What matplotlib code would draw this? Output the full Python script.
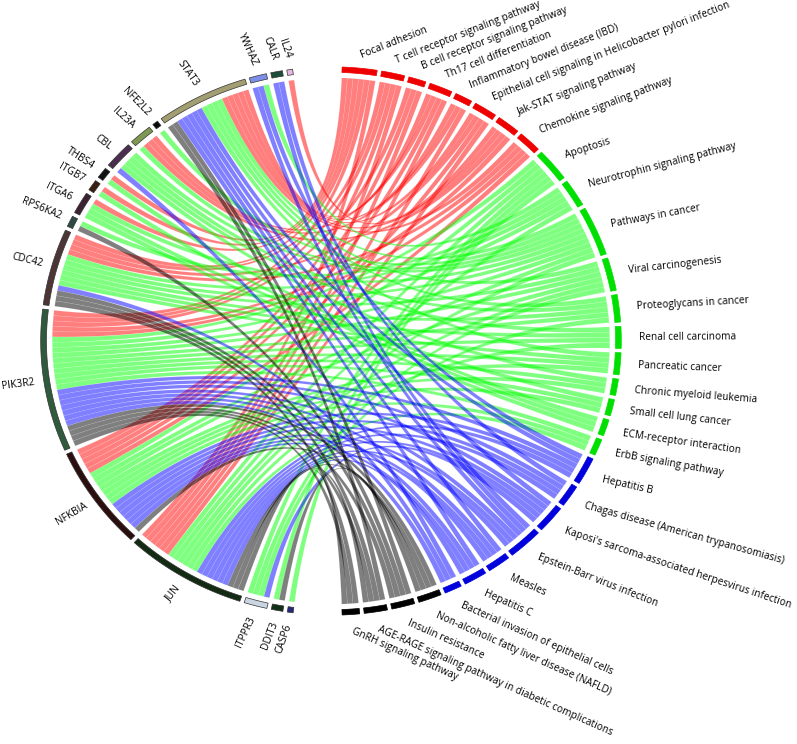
import numpy as np
import matplotlib.pyplot as plt
from matplotlib.patches import Polygon

plt.rcParams['font.family'] = ['Open Sans', 'DejaVu Sans']

# genes on the left half, top to bottom
genes = ["IL24", "CALR", "YWHAZ", "STAT3", "NFE2L2", "IL23A", "CBL", "THBS4",
         "ITGB7", "ITGA6", "RPS6KA2", "CDC42", "PIK3R2", "NFKBIA", "JUN",
         "ITPPR3", "DDIT3", "CASP6"]
gene_colors = ["#e6b8e0", "#1e4d3a", "#7c8ee8", "#a39e72", "#0a0a0a", "#7e9a52",
               "#4a2e4e", "#121212", "#3b1e12", "#3a2232", "#2e4a44", "#4b3535",
               "#2f5a3c", "#2b0e0e", "#132a13", "#c9d6e2", "#10301a", "#27277a"]

# pathways on the right half, top to bottom
pathways = ["Focal adhesion", "T cell receptor signaling pathway",
            "B cell receptor signaling pathway", "Th17 cell differentiation",
            "Inflammatory bowel disease (IBD)",
            "Epithelial cell signaling in Helicobacter pylori infection",
            "Jak-STAT signaling pathway", "Chemokine signaling pathway",
            "Apoptosis", "Neurotrophin signaling pathway", "Pathways in cancer",
            "Viral carcinogenesis", "Proteoglycans in cancer", "Renal cell carcinoma",
            "Pancreatic cancer", "Chronic myeloid leukemia", "Small cell lung cancer",
            "ECM-receptor interaction", "ErbB signaling pathway", "Hepatitis B",
            "Chagas disease (American trypanosomiasis)",
            "Kaposi's sarcoma-associated herpesvirus infection",
            "Epstein-Barr virus infection", "Measles", "Hepatitis C",
            "Bacterial invasion of epithelial cells",
            "Non-alcoholic fatty liver disease (NAFLD)", "Insulin resistance",
            "AGE-RAGE signaling pathway in diabetic complications",
            "GnRH signaling pathway"]
pathway_groups = ["red"] * 8 + ["green"] * 11 + ["blue"] * 7 + ["black"] * 4

# genes in each pathway
members = ["THBS4 ITGB7 ITGA6 CDC42 PIK3R2 JUN",
           "CDC42 PIK3R2 NFKBIA JUN",
           "PIK3R2 NFKBIA JUN",
           "STAT3 IL23A NFKBIA JUN",
           "STAT3 IL23A JUN",
           "STAT3 CDC42 NFKBIA JUN",
           "IL24 STAT3 IL23A PIK3R2",
           "STAT3 CDC42 PIK3R2 NFKBIA",
           "PIK3R2 NFKBIA JUN ITPPR3 DDIT3 CASP6",
           "YWHAZ RPS6KA2 CDC42 PIK3R2 JUN",
           "STAT3 NFE2L2 IL23A CBL ITGA6 CDC42 PIK3R2 NFKBIA JUN",
           "STAT3 CDC42 PIK3R2 NFKBIA JUN ITPPR3",
           "STAT3 CBL CDC42 PIK3R2 ITPPR3",
           "CBL CDC42 PIK3R2 JUN",
           "STAT3 CDC42 PIK3R2 NFKBIA",
           "CBL PIK3R2 NFKBIA",
           "ITGA6 PIK3R2 NFKBIA",
           "THBS4 ITGB7 ITGA6",
           "PIK3R2 NFKBIA JUN",
           "YWHAZ STAT3 PIK3R2 NFKBIA JUN",
           "CALR PIK3R2 NFKBIA JUN",
           "STAT3 PIK3R2 NFKBIA JUN ITPPR3",
           "CALR YWHAZ STAT3 PIK3R2 NFKBIA JUN",
           "STAT3 PIK3R2 NFKBIA JUN",
           "STAT3 PIK3R2 NFKBIA JUN",
           "CBL CDC42 PIK3R2",
           "PIK3R2 NFKBIA JUN DDIT3",
           "STAT3 RPS6KA2 CDC42 PIK3R2",
           "STAT3 CDC42 PIK3R2 JUN",
           "CDC42 PIK3R2 JUN"]

ribbon_colors = {"red": (1, 0, 0, 0.5), "green": (0, 1, 0, 0.5),
                 "blue": (0, 0, 1, 0.5), "black": (0, 0, 0, 0.5)}
arc_colors = {"red": "#ee0000", "green": "#00e000", "blue": "#0000dd", "black": "#000000"}

links = [(genes.index(g), p) for p, m in enumerate(members) for g in m.split()]
gene_n = [sum(1 for g, p in links if g == i) for i in range(len(genes))]
path_n = [len(m.split()) for m in members]

# angular layout in degrees
g_start, g_end = 97.6, 262.5
p_start, p_end = 87.8, -87.8
gap = ((p_start - p_end) - (g_end - g_start)) / (len(pathways) - len(genes))
unit = ((g_end - g_start) - gap * (len(genes) - 1)) / len(links)

gene_lo = []
a = g_start
for n in gene_n:
    gene_lo.append(a)
    a += n * unit + gap
path_hi = []
a = p_start
for n in path_n:
    path_hi.append(a)
    a -= n * unit + gap

fig = plt.figure(figsize=(7.97, 7.44), dpi=100)
ax = fig.add_axes([0, 0, 1, 1])
ax.set_xlim(-331 / 288, 466 / 288)
ax.set_ylim(-403 / 272, 341 / 272)
ax.axis("off")


def pt(deg, r):
    t = np.radians(deg)
    return np.column_stack([r * np.cos(t), r * np.sin(t)])


def arc(d1, d2, r, n=12):
    return pt(np.linspace(d1, d2, n), r)


def bez(p0, p1):
    t = np.linspace(0, 1, 50)[:, None]
    return (1 - t) ** 2 * p0 + t ** 2 * p1


def sector(d1, d2, r1, r2):
    return np.vstack([arc(d1, d2, r2, 30), arc(d2, d1, r1, 30)])


R = 0.968
# ribbons
for p in range(len(pathways)):
    glist = sorted(genes.index(g) for g in members[p].split())
    for k, gi in enumerate(glist):
        b2 = path_hi[p] - k * unit
        b1 = b2 - unit
        slots = sorted(q for g, q in links if g == gi)
        j = slots.index(p)
        a1 = gene_lo[gi] + j * unit
        a2 = a1 + unit
        A = arc(b1, b2, R)
        B = arc(a1, a2, R)
        verts = np.vstack([A, bez(A[-1], B[0]), B, bez(B[-1], A[0])])
        ax.add_patch(Polygon(verts, closed=True, facecolor=ribbon_colors[pathway_groups[p]],
                             edgecolor=(1, 1, 1, 0.25), linewidth=0.3))

# gene arcs and labels
for i, g in enumerate(genes):
    d1 = gene_lo[i]
    d2 = d1 + gene_n[i] * unit
    ax.add_patch(Polygon(sector(d1, d2, 0.988, 1.008), closed=True,
                         facecolor=gene_colors[i], edgecolor="#333333", linewidth=0.5))
    mid = (d1 + d2) / 2
    r = 1.055 - 0.015 * abs(np.cos(np.radians(mid)))
    x, y = pt(mid, r)[0]
    ax.text(x, y, g, rotation=0.87 * (mid - 180), rotation_mode="anchor",
            ha="right", va="center", fontsize=7.3)

# pathway arcs and labels
for p, name in enumerate(pathways):
    d2 = path_hi[p]
    d1 = d2 - path_n[p] * unit
    c = arc_colors[pathway_groups[p]]
    ax.add_patch(Polygon(sector(d1, d2, 0.988, 1.008), closed=True,
                         facecolor=c, edgecolor=c, linewidth=0.5))
    mid = (d1 + d2) / 2
    r = 1.07 - 0.015 * max(np.sin(np.radians(mid)), 0)
    x, y = pt(mid, r)[0]
    ax.text(x, y, name, rotation=np.clip(0.45 * mid, -24, 21.5), rotation_mode="anchor",
            ha="left", va="center", fontsize=7.3)

fig.savefig("out.png", dpi=100)
